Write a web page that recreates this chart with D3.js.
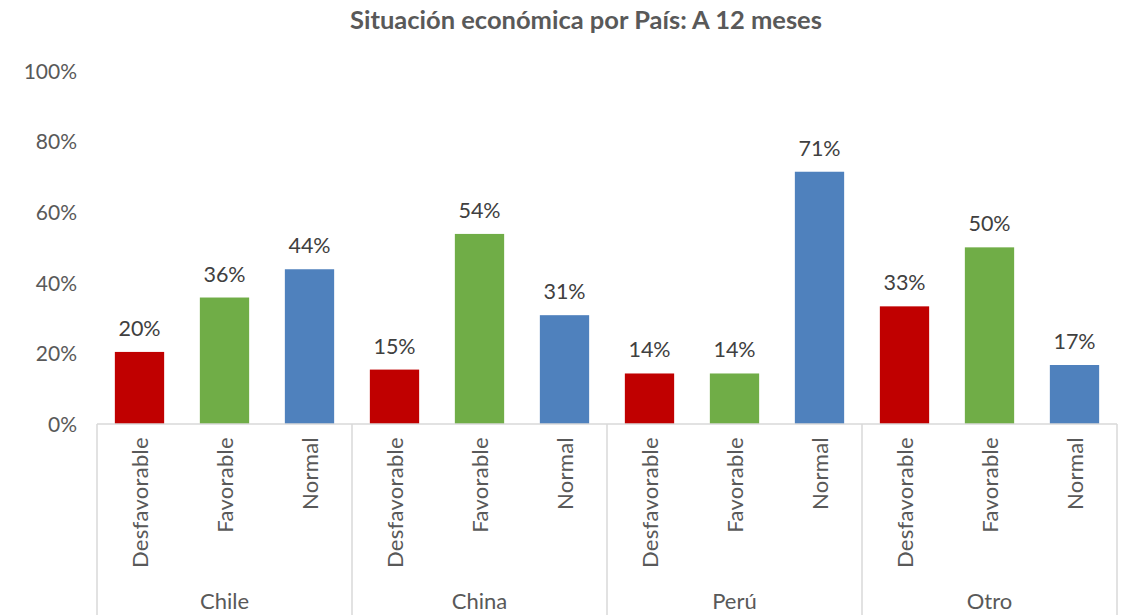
<!DOCTYPE html>
<html>
<head>
<meta charset="utf-8">
<script src="https://cdn.jsdelivr.net/npm/d3@7"></script>
<style>
  html, body { margin: 0; padding: 0; background: #fff; }
  svg { display: block; }
  text { font-family: "Lato", "Open Sans", sans-serif; }
</style>
</head>
<body>
<svg id="chart" width="1123" height="615"></svg>
<script>
const title = "Situación económica por País: A 12 meses";
const countries = ["Chile", "China", "Perú", "Otro"];
const statuses = ["Desfavorable", "Favorable", "Normal"];
const desfavorable = [0.204, 0.154, 0.143, 0.333];
const favorable    = [0.358, 0.538, 0.143, 0.500];
const normal       = [0.438, 0.308, 0.714, 0.167];
const yTicks = [0, 0.2, 0.4, 0.6, 0.8, 1.0];
const colors = ["#C00000", "#70AD47", "#4F81BD"];

const seriesValues = [desfavorable, favorable, normal];
const data = [];
countries.forEach((c, ci) => {
  statuses.forEach((s, si) => {
    data.push({country: c, status: s, value: seriesValues[si][ci], si});
  });
});

const svg = d3.select("#chart");
const left = 97, right = 1117, y0 = 424, y100 = 70.7, bottom = 615;

const x0 = d3.scaleBand().domain(countries).range([left, right]).paddingInner(0).paddingOuter(0);
const x1 = d3.scaleBand().domain(statuses).range([0, x0.bandwidth()]).paddingInner(0.42).paddingOuter(0.21);
const y = d3.scaleLinear().domain([0, 1]).range([y0, y100]);
const color = d3.scaleOrdinal().domain(statuses).range(colors);
const pct = d3.format(".0%");

// title
svg.append("text")
  .attr("x", 586).attr("y", 29)
  .attr("text-anchor", "middle")
  .attr("font-size", 25.5).attr("font-weight", "bold")
  .attr("fill", "#595959")
  .text(title);

// y axis labels (no line)
const yAxis = d3.axisLeft(y).tickValues(yTicks).tickFormat(pct).tickSize(0).tickPadding(0);
const yg = svg.append("g").attr("transform", `translate(${77},0)`).call(yAxis);
yg.select(".domain").remove();
yg.selectAll("text").attr("font-size", 21).attr("fill", "#595959")
  .attr("font-family", "Lato, 'Open Sans', sans-serif").attr("dy", "0.35em");

// bars
svg.append("g").selectAll("rect").data(data).join("rect")
  .attr("x", d => x0(d.country) + x1(d.status))
  .attr("y", d => y(d.value))
  .attr("width", x1.bandwidth())
  .attr("height", d => y(0) - y(d.value))
  .attr("fill", d => color(d.status));

// data labels
svg.append("g").selectAll("text").data(data).join("text")
  .attr("x", d => x0(d.country) + x1(d.status) + x1.bandwidth() / 2)
  .attr("y", d => y(d.value) - 16)
  .attr("text-anchor", "middle")
  .attr("font-size", 21.5)
  .attr("fill", "#404040")
  .text(d => pct(d.value));

// horizontal category axis line
const gridColor = "#D9D9D9";
svg.append("line")
  .attr("x1", left).attr("x2", right).attr("y1", y0).attr("y2", y0)
  .attr("stroke", gridColor).attr("stroke-width", 1.5);

// group separators
const seps = countries.map(c => x0(c)).concat([right]);
svg.append("g").selectAll("line").data(seps).join("line")
  .attr("x1", d => d).attr("x2", d => d)
  .attr("y1", y0).attr("y2", bottom)
  .attr("stroke", gridColor).attr("stroke-width", 1.5);

// rotated status labels
svg.append("g").selectAll("text").data(data).join("text")
  .attr("transform", d => `translate(${x0(d.country) + x1(d.status) + x1.bandwidth() / 2 + 1},${437}) rotate(-90)`)
  .attr("text-anchor", "end")
  .attr("dy", "0.35em")
  .attr("font-size", 22)
  .attr("letter-spacing", 0.3)
  .attr("fill", "#595959")
  .text(d => d.status);

// country labels
svg.append("g").selectAll("text").data(countries).join("text")
  .attr("x", d => x0(d) + x0.bandwidth() / 2)
  .attr("y", 609)
  .attr("text-anchor", "middle")
  .attr("font-size", 22)
  .attr("fill", "#595959")
  .text(d => d);
</script>
</body>
</html>
